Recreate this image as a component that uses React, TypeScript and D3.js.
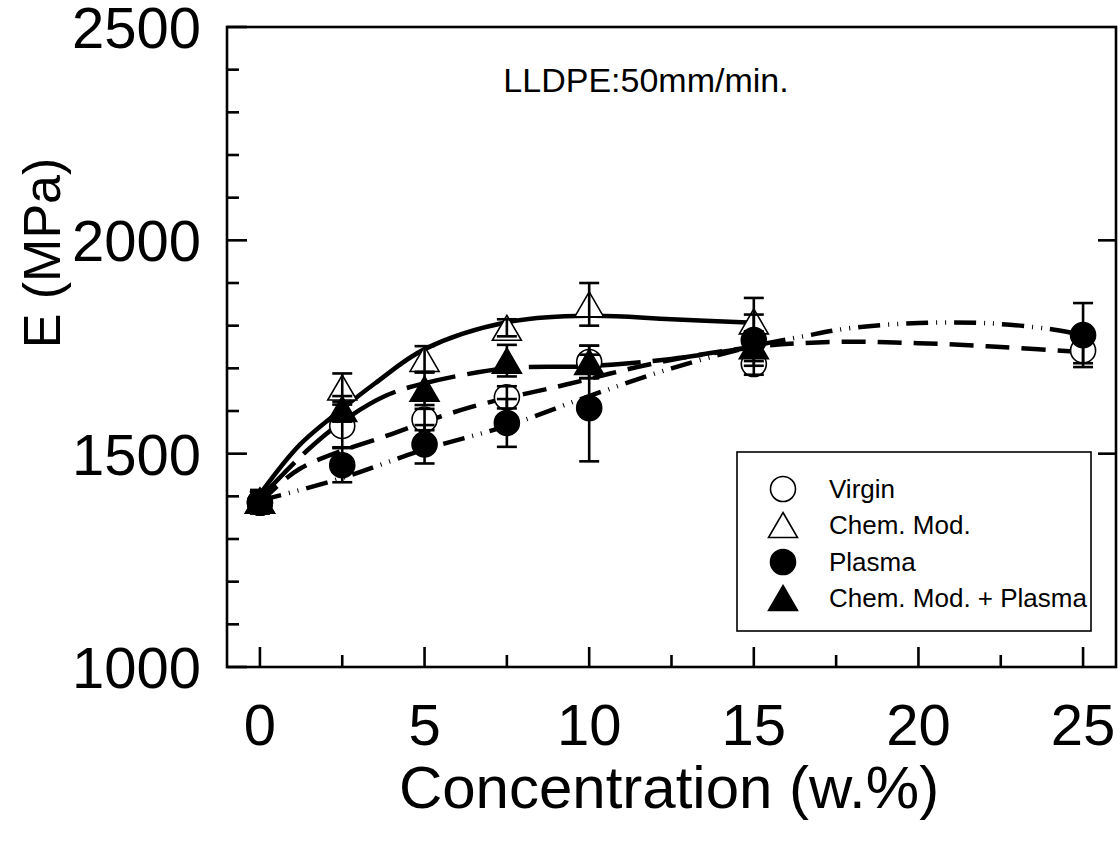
import React from "react";
import * as d3 from "d3";

// ---- data ----
const virginX = [0, 2.5, 5, 7.5, 10, 15, 25];
const virginE = [1385, 1565, 1580, 1632, 1715, 1710, 1742];
const virginErr = [25, 50, 25, 26, 38, 25, 30];

const chemX = [0, 2.5, 5, 7.5, 10, 15];
const chemE = [1390, 1655, 1722, 1795, 1850, 1810];
const chemErr = [25, 33, 30, 20, 50, 55];

const plasmaX = [0, 2.5, 5, 7.5, 10, 15, 25];
const plasmaE = [1385, 1473, 1522, 1572, 1607, 1766, 1778];
const plasmaErr = [25, 40, 45, 56, 125, 60, 75];

const chemPlasmaX = [0, 2.5, 5, 7.5, 10, 15];
const chemPlasmaE = [1390, 1605, 1652, 1718, 1715, 1752];
const chemPlasmaErr = [20, 30, 38, 37, 38, 35];

// fitted curves
const chemFitX = [0, 1.2, 2.5, 3.5, 5, 7.5, 10, 12.5, 15];
const chemFitY = [1405, 1520, 1605, 1665, 1745, 1808, 1823, 1815, 1807];
const chemPlasmaFitX = [0, 1.4, 2.5, 3.8, 5, 7.5, 10, 12.5, 15];
const chemPlasmaFitY = [1395, 1505, 1575, 1635, 1665, 1700, 1705, 1722, 1750];
const virginFitX = [0, 1.2, 4, 6.4, 9.3, 12, 15, 17.5, 20, 22.5, 25];
const virginFitY = [1385, 1464, 1546, 1609, 1662, 1712, 1750, 1762, 1759, 1750, 1738];
const plasmaFitX = [0, 2.5, 5, 7.5, 10, 12.5, 15, 16.5, 18, 20, 22, 24, 25];
const plasmaFitY = [1390, 1443, 1510, 1565, 1635, 1700, 1752, 1775, 1795, 1806, 1806, 1792, 1778];

const xMajor = [0, 5, 10, 15, 20, 25];
const xMinor = [2.5, 7.5, 12.5, 17.5, 22.5];
const yMajor = [1000, 1500, 2000, 2500];
const yMinor = d3.range(1100, 2500, 100).filter((v) => v % 500 !== 0);
const rightMajor = [1500, 2000];

const legendLabels = ["Virgin", "Chem. Mod.", "Plasma", "Chem. Mod. + Plasma"];

const W = 1120;
const H = 842;
const L = 227, R = 1116, T = 27, B = 667;

const x = d3.scaleLinear().domain([-1, 26]).range([L, R]);
const y = d3.scaleLinear().domain([1000, 2500]).range([B, T]);

const FONT = "'Liberation Sans', Arial, Helvetica, sans-serif";

type Kind = "circle" | "triangle";

function Marker({ cx, cy, kind, filled }: { cx: number; cy: number; kind: Kind; filled: boolean }) {
  const fill = filled ? "#000" : "#fff";
  if (kind === "circle") {
    return <circle cx={cx} cy={cy} r={12.5} fill={fill} stroke="#000" strokeWidth={1.6} />;
  }
  const w = 29, h = 25;
  const p = `M${cx},${cy - h / 2}L${cx + w / 2},${cy + h / 2}L${cx - w / 2},${cy + h / 2}Z`;
  return <path d={p} fill={fill} stroke="#000" strokeWidth={1.6} strokeLinejoin="miter" />;
}

function Series({ xs, es, errs, kind, filled }: { xs: number[]; es: number[]; errs: number[]; kind: Kind; filled: boolean }) {
  return (
    <g>
      {xs.map((xv, i) => {
        const cx = x(xv), cy = y(es[i]);
        const y1 = y(es[i] + errs[i]), y2 = y(es[i] - errs[i]);
        return (
          <g key={i}>
            <Marker cx={cx} cy={cy} kind={kind} filled={filled} />
            <line x1={cx} x2={cx} y1={y1} y2={y2} stroke="#000" strokeWidth={2.6} />
            <line x1={cx - 10} x2={cx + 10} y1={y1} y2={y1} stroke="#000" strokeWidth={2.6} />
            <line x1={cx - 10} x2={cx + 10} y1={y2} y2={y2} stroke="#000" strokeWidth={2.6} />
          </g>
        );
      })}
    </g>
  );
}

const lineGen = d3
  .line<[number, number]>()
  .x((d) => x(d[0]))
  .y((d) => y(d[1]))
  .curve(d3.curveCatmullRom.alpha(0.5));

function fitPath(xs: number[], ys: number[]) {
  return lineGen(xs.map((v, i) => [v, ys[i]] as [number, number])) || "";
}

export default function App() {
  const legendX = 737, legendY = 452, legendW = 354, legendH = 179;
  const legendRows = [489, 525, 562, 598];
  const legendKinds: [Kind, boolean][] = [
    ["circle", false],
    ["triangle", false],
    ["circle", true],
    ["triangle", true],
  ];
  return (
    <svg width={W} height={H} style={{ position: "absolute", left: 0, top: 0, background: "#fff" }} fontFamily={FONT}>
      <rect x={0} y={0} width={W} height={H} fill="#fff" />

      {/* fit curves */}
      <g fill="none" stroke="#000" strokeWidth={4.5} strokeLinecap="butt">
        <path d={fitPath(virginFitX, virginFitY)} strokeDasharray="24,12" />
        <path d={fitPath(plasmaFitX, plasmaFitY)} strokeDasharray="22,8,1,8,1,8" />
        <path d={fitPath(chemPlasmaFitX, chemPlasmaFitY)} strokeDasharray="50,12" />
        <path d={fitPath(chemFitX, chemFitY)} />
      </g>

      {/* data */}
      <Series xs={virginX} es={virginE} errs={virginErr} kind="circle" filled={false} />
      <Series xs={chemX} es={chemE} errs={chemErr} kind="triangle" filled={false} />
      <Series xs={plasmaX} es={plasmaE} errs={plasmaErr} kind="circle" filled={true} />
      <Series xs={chemPlasmaX} es={chemPlasmaE} errs={chemPlasmaErr} kind="triangle" filled={true} />

      {/* frame */}
      <rect x={L} y={T} width={R - L} height={B - T} fill="none" stroke="#000" strokeWidth={2.6} />

      {/* ticks */}
      <g stroke="#000" strokeWidth={2.6}>
        {xMajor.map((v) => (
          <line key={"xM" + v} x1={x(v)} x2={x(v)} y1={B} y2={B - 20} />
        ))}
        {xMinor.map((v) => (
          <line key={"xm" + v} x1={x(v)} x2={x(v)} y1={B} y2={B - 12} />
        ))}
        {yMajor.map((v) => (
          <line key={"yM" + v} x1={L} x2={L + 20} y1={y(v)} y2={y(v)} />
        ))}
        {yMinor.map((v) => (
          <line key={"ym" + v} x1={L} x2={L + 12} y1={y(v)} y2={y(v)} />
        ))}
        {rightMajor.map((v) => (
          <line key={"rM" + v} x1={R} x2={R - 18} y1={y(v)} y2={y(v)} />
        ))}
      </g>

      {/* tick labels */}
      <g fontSize={58} fill="#000">
        {xMajor.map((v) => (
          <text key={"xl" + v} x={x(v)} y={745} textAnchor="middle">
            {v}
          </text>
        ))}
        {yMajor.map((v) => (
          <text key={"yl" + v} x={201} y={y(v)} dy="0.36em" textAnchor="end">
            {v}
          </text>
        ))}
      </g>

      {/* axis titles */}
      <text x={669} y={808} fontSize={60} textAnchor="middle" fill="#000">
        Concentration (w.%)
      </text>
      <text transform="translate(60,253) rotate(-90)" fontSize={52} textAnchor="middle" fill="#000">
        E (MPa)
      </text>

      {/* annotation */}
      <text x={646} y={92} fontSize={34} textAnchor="middle" fill="#000">
        LLDPE:50mm/min.
      </text>

      {/* legend */}
      <rect x={legendX} y={legendY} width={legendW} height={legendH} fill="#fff" stroke="#000" strokeWidth={1.6} />
      {legendLabels.map((lab, i) => (
        <g key={lab}>
          <Marker cx={783} cy={legendRows[i]} kind={legendKinds[i][0]} filled={legendKinds[i][1]} />
          <text x={829} y={legendRows[i]} dy="0.36em" fontSize={26} fill="#000">
            {lab}
          </text>
        </g>
      ))}
    </svg>
  );
}
